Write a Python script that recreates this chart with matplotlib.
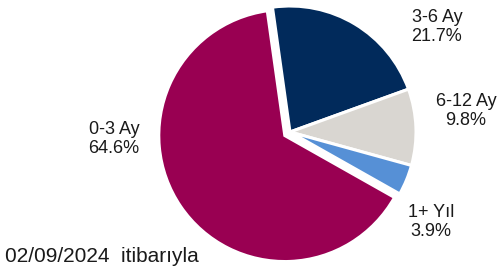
import matplotlib
matplotlib.use("Agg")
import matplotlib.pyplot as plt

categories = ["3-6 Ay", "6-12 Ay", "1+ Yıl", "0-3 Ay"]
values = [21.7, 9.8, 3.9, 64.6]
colors = ["#012A5B", "#D9D6D1", "#5690D6", "#990052"]
explode = [0.0, 0.0, 0.0, 0.05]
note = "02/09/2024  itibarıyla"

plt.rcParams['font.family'] = ['Liberation Sans', 'DejaVu Sans']

W, H = 497, 272
fig = plt.figure(figsize=(W / 100, H / 100), dpi=100)
cx, cy, r = 290, 132, 126
ax = fig.add_axes([(cx - r) / W, (H - cy - r) / H, 2 * r / W, 2 * r / H])
ax.pie(values, colors=colors, explode=explode, startangle=98, counterclock=False,
       wedgeprops=dict(edgecolor="white", linewidth=2.2))
ax.set_xlim(-1, 1)
ax.set_ylim(-1, 1)
ax.set_aspect("auto")
ax.axis("off")

# label positions in figure pixels (center of two-line block)
label_pos = {"3-6 Ay": (437, 27), "6-12 Ay": (466, 111), "1+ Yıl": (431, 222), "0-3 Ay": (114, 139)}
for cat, v in zip(categories, values):
    x, y = label_pos[cat]
    fig.text(x / W, 1 - y / H, f"{cat}\n{v:.1f}%", ha="center", va="center",
             fontsize=13, linespacing=1.13, color="#1a1a1a")

fig.text(5 / W, 1 - 256 / H, note, ha="left", va="center", fontsize=15, color="#1a1a1a")

fig.savefig("out.png", dpi=100)
